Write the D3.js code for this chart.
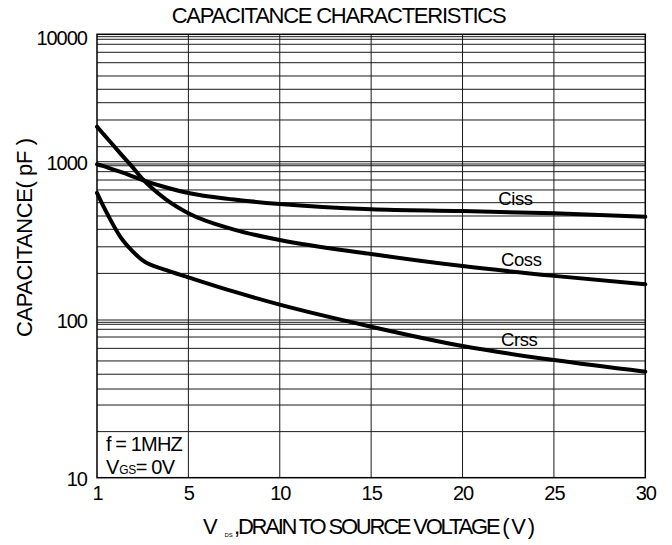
<!DOCTYPE html>
<html><head><meta charset="utf-8">
<script src="https://cdn.jsdelivr.net/npm/d3@7"></script>
<style>
body{margin:0;background:#fff}
text{font-family:"Liberation Sans", Arial, sans-serif; fill:#000}
</style></head>
<body><svg id="c" width="672" height="545"></svg>
<script>
// ---- data ----
const vds  = [1, 1.25, 1.5, 2, 2.5, 3, 4, 5, 7.5, 10, 15, 20, 25, 30];
const ciss = [963, 940, 915, 865, 815, 766, 690, 634, 577, 540, 500, 488, 472, 449];
const coss = [1883, 1674, 1488, 1174, 944, 775, 580, 472, 372, 320, 261, 219, 190, 168];
const crss = [635, 533, 454, 339, 277, 238, 207, 186, 151, 125, 90.7, 68.4, 55.7, 47];
const seriesNames = ["Ciss", "Coss", "Crss"];
const xTicks = [1, 5, 10, 15, 20, 25, 30];
const yTicks = [10, 100, 1000, 10000];
const gridY = [19.6, 28.9, 36.5, 45.3, 55, 66.1, 78, 87.3, 93.9, 96.7,
               197, 290, 374, 454, 551, 663, 766, 865, 943, 967,
               1311, 2125, 2905, 3701, 4707, 5985, 7225, 8350, 9140, 9580];
const title = "CAPACITANCE CHARACTERISTICS";
const yTitle = "CAPACITANCE( pF )";
const xTitle = ",DRAIN TO SOURCE VOLTAGE ( V )";
const note1 = "f = 1MHZ";

// ---- layout ----
const L = 97, R = 645.3, T = 34.3, B = 477.7;
const svg = d3.select("#c");

const x = d3.scaleLinear().domain(xTicks)
  .range(xTicks.map((d, i) => L + i * (R - L) / (xTicks.length - 1)));
const y = d3.scaleLog().domain(yTicks).range([B, 320, 161.7, T]);

// grid
const g = svg.append("g");
g.selectAll("line.h").data(gridY).join("line")
  .attr("x1", L).attr("x2", R).attr("y1", d => y(d)).attr("y2", d => y(d))
  .attr("stroke", "#1a1a1a").attr("stroke-width", 1);
g.selectAll("line.v").data(xTicks.slice(1, -1)).join("line")
  .attr("y1", T).attr("y2", B).attr("x1", d => x(d)).attr("x2", d => x(d))
  .attr("stroke", "#1a1a1a").attr("stroke-width", 1);
g.selectAll("line.h2").data(yTicks.slice(1, -1)).join("line")
  .attr("x1", L).attr("x2", R).attr("y1", d => y(d)).attr("y2", d => y(d))
  .attr("stroke", "#1a1a1a").attr("stroke-width", 1);
svg.append("rect").attr("x", L).attr("y", T).attr("width", R - L).attr("height", B - T)
  .attr("fill", "none").attr("stroke", "#000").attr("stroke-width", 1.5);

// axes
const xa = svg.append("g").attr("transform", `translate(0,${B})`)
  .call(d3.axisBottom(x).tickValues(xTicks).tickSize(0).tickPadding(8).tickFormat(d3.format("d")));
const ya = svg.append("g").attr("transform", `translate(${L},0)`)
  .call(d3.axisLeft(y).tickValues(yTicks).tickSize(0).tickPadding(10).tickFormat(d3.format("d")));
[xa, ya].forEach(a => {
  a.select(".domain").remove();
  a.selectAll("text").attr("font-size", 20).attr("letter-spacing", -1)
    .style("font-family", '"Liberation Sans", Arial, sans-serif').attr("fill", "#000");
});
ya.selectAll("text").attr("dy", "0.38em");
ya.selectAll("text").filter(d => d === 10000).attr("dy", "0.52em");

// curves
const line = d3.line().x((d, i) => x(vds[i])).y(d => y(d)).curve(d3.curveMonotoneX);
[ciss, coss, crss].forEach(s => {
  svg.append("path").attr("d", line(s)).attr("fill", "none")
    .attr("stroke", "#000").attr("stroke-width", 4).attr("stroke-linecap", "round");
});

// series labels
const labPos = [[498.3, 205], [501, 266], [501, 346]];
seriesNames.forEach((n, i) => {
  svg.append("text").attr("x", labPos[i][0]).attr("y", labPos[i][1])
    .attr("font-size", 18.5).attr("letter-spacing", -0.4).text(n);
});

// title
svg.append("text").attr("x", 171.7).attr("y", 23.3).attr("font-size", 22)
  .attr("textLength", 335).attr("lengthAdjust", "spacing").text(title);

// y title
svg.append("text").attr("transform", "translate(31.5,237.5) rotate(-90)")
  .attr("text-anchor", "middle").attr("font-size", 22)
  .attr("textLength", 199).attr("lengthAdjust", "spacing").text(yTitle);

// x title
svg.append("text").attr("x", 203).attr("y", 534).attr("font-size", 22).text("V");
svg.append("text").attr("x", 224.5).attr("y", 536.5).attr("font-size", 6).text("DS");
svg.append("text").attr("x", 234).attr("y", 534).attr("font-size", 22)
  .attr("textLength", 301).attr("lengthAdjust", "spacing").text(xTitle);

// notes
svg.append("text").attr("x", 106).attr("y", 451).attr("font-size", 20)
  .attr("textLength", 76.7).attr("lengthAdjust", "spacing").text(note1);
const n2 = svg.append("text").attr("x", 106).attr("y", 474.3).attr("font-size", 20);
n2.append("tspan").text("V");
n2.append("tspan").attr("font-size", 12).attr("letter-spacing", -0.5).text("GS");
n2.append("tspan").attr("letter-spacing", -0.8).text("= 0V");
</script></body></html>
